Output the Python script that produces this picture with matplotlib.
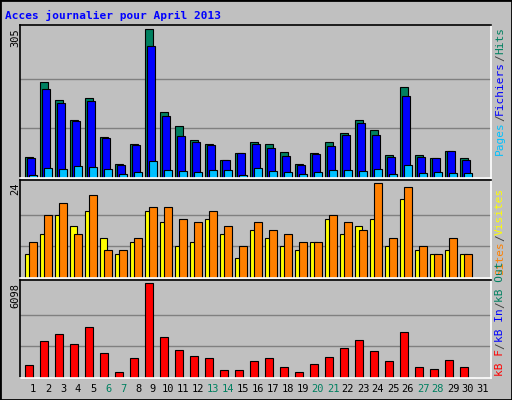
import matplotlib
matplotlib.use("Agg")
import matplotlib.pyplot as plt

days = list(range(1, 32))
hits = [43,197,161,120,164,85,28,70,305,135,107,79,70,37,51,74,70,53,28,51,74,93,120,99,47,186,47,41,55,41,0]
files = [41,182,153,118,159,82,26,68,272,128,87,74,68,37,51,70,62,45,26,49,66,89,112,89,43,168,43,41,55,37,0]
pages = [6,20,18,24,22,18,8,12,35,16,14,12,16,16,6,20,14,12,8,12,16,16,14,18,8,26,10,12,10,10,0]
visits = [6,11,16,13,17,10,6,9,17,14,8,9,15,11,5,12,10,8,7,9,15,11,13,15,8,20,7,6,7,6,0]
sites = [9,16,19,11,21,7,7,10,18,18,15,14,17,13,8,14,12,11,9,9,16,14,12,24,10,23,8,6,10,6,0]
kbytes = [823,2359,2826,2159,3294,1625,356,1291,6098,2626,1825,1424,1291,490,490,1090,1291,690,356,890,1358,1892,2426,1758,1090,2960,690,556,1157,690,0]
weekend = [6,7,13,14,20,21,27,28]
title = "Acces journalier pour April 2013"

W, H = 512, 400
BG = "#c0c0c0"
fig = plt.figure(figsize=(W/100, H/100), dpi=100, facecolor=BG)
MONO = "DejaVu Sans Mono"

def ax_px(l, t, r, b):
    return fig.add_axes([l/W, 1-b/H, (r-l)/W, (b-t)/H])

xl = (1 - 13/15, 1 + (491-33)/15)

def style(ax, vmax):
    ax.set_facecolor(BG)
    ax.set_xlim(*xl)
    ax.set_ylim(0, vmax*1.03)
    ax.set_xticks([]); ax.set_yticks([])
    for y in (vmax/3, 2*vmax/3):
        ax.axhline(y, color="#808080", lw=1, zorder=0)
    ax.spines["top"].set_color("black"); ax.spines["left"].set_color("black")
    ax.spines["bottom"].set_color("white"); ax.spines["right"].set_color("white")
    for s in ax.spines.values(): s.set_linewidth(1.2)

ec = dict(edgecolor="black", linewidth=0.8, align="edge")
ax1 = ax_px(20, 25, 491, 178)
style(ax1, 305)
ax1.bar([d-0.53 for d in days], hits, width=0.53, color="#008060", **ec)
ax1.bar([d-0.40 for d in days], files, width=0.53, color="#0000ff", **ec)
ax1.bar([d-0.27 for d in days], pages, width=0.53, color="#00c0ff", **ec)

ax2 = ax_px(20, 180, 491, 278)
style(ax2, 24)
ax2.bar([d-0.53 for d in days], visits, width=0.45, color="#ffff00", **ec)
ax2.bar([d-0.27 for d in days], sites, width=0.53, color="#ff8000", **ec)

ax3 = ax_px(20, 280, 491, 378)
style(ax3, 6098)
ax3.bar([d-0.53 for d in days], kbytes, width=0.53, color="#ff0000", **ec)

for d in days:
    fig.text((33+15*(d-1))/W, 1-389/H, str(d), ha="center", va="center",
             fontsize=7.5, family=MONO, color="#008060" if d in weekend else "black")

fig.text(5/W, 1-15/H, title, fontsize=8, family=MONO, weight="bold", color="#0000ff", va="center")

for lab, top in (("305", 28), ("24", 182), ("6098", 283)):
    fig.text(15/W, 1-top/H, lab, rotation=90, ha="center", va="top", fontsize=7.5, family=MONO)

renderer = fig.canvas.get_renderer()
def vlabel(parts, bottom, size):
    y = bottom
    for s, c in parts:
        t = fig.text(500/W, 1-y/H, s, rotation=90, ha="center", va="bottom",
                     fontsize=size, family=MONO, color=c)
        y -= t.get_window_extent(renderer).height
        if s.startswith(" "):
            pass

sep = "#404040"
vlabel([("Pages", "#00c0ff"), ("/", sep), ("Fichiers", "#0000ff"), ("/", sep), ("Hits", "#008060")], 155, 8)
vlabel([("Sites", "#ff8000"), ("/", sep), ("Visites", "#ffff00")], 275, 8)
vlabel([("kB F", "#ff0000"), ("/", sep), ("kB In", "#0000ff"), ("/", sep), ("kB Out", "#008060")], 376, 8)

from matplotlib.patches import Rectangle
fig.patches.append(Rectangle((0, 0), 1, 1, transform=fig.transFigure, fill=False, edgecolor="black", lw=2))

fig.savefig("out.png", dpi=100, facecolor=BG)
